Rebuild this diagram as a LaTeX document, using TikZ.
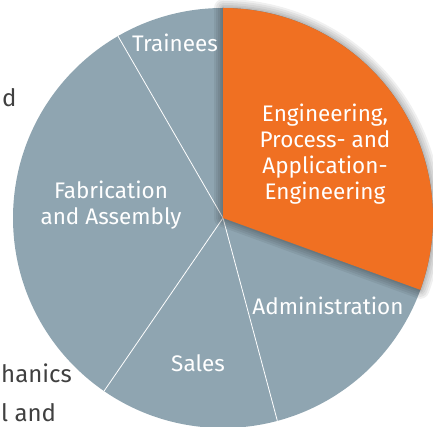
\documentclass[tikz,border=0pt]{standalone}
\usepackage{fontspec}
\setmainfont{Fira Sans}
\definecolor{piegrey}{HTML}{8FA5B1}
\definecolor{pieorange}{HTML}{F07022}
\begin{document}
\begin{tikzpicture}[x=1pt, y=1pt,
  slicetext/.style={text=white, font=\fontsize{22.5}{26}\selectfont, align=center},
  sidetext/.style={text=black!75, font=\fontsize{24}{26}\selectfont, anchor=base west, inner sep=0pt}]
\useasboundingbox (0,0) rectangle (433,427);
\coordinate (c) at (223,209);
\fill[piegrey] (c) circle[radius=210];
\foreach \a in {120,235.5,285}
  \draw[white, line width=0.8pt] (c) -- ++(\a:210);
\foreach \w in {18,14,10,6,3}
  \draw[black, opacity=0.06, line width=\w pt, line join=round] (c) -- ++(-20:210) arc[start angle=-20, end angle=90, radius=210] -- cycle;
\fill[pieorange] (c) -- ++(-20:210) arc[start angle=-20, end angle=90, radius=210] -- cycle;
\node[slicetext] (eng) at (325,273) {Engineering,\\Process- and\\Application-\\Engineering};
\node[slicetext] (trainees) at (175,384) {Trainees};
\node[slicetext] (fab) at (111,222) {Fabrication\\and Assembly};
\node[slicetext] (sales) at (198,64) {Sales};
\node[slicetext] (admin) at (328,121) {Administration};
\node[sidetext] (side1) at (2,320) {d};
\node[sidetext] (side2) at (1,44) {hanics};
\node[sidetext] (side3) at (1,5) {l and};
\end{tikzpicture}
\end{document}
